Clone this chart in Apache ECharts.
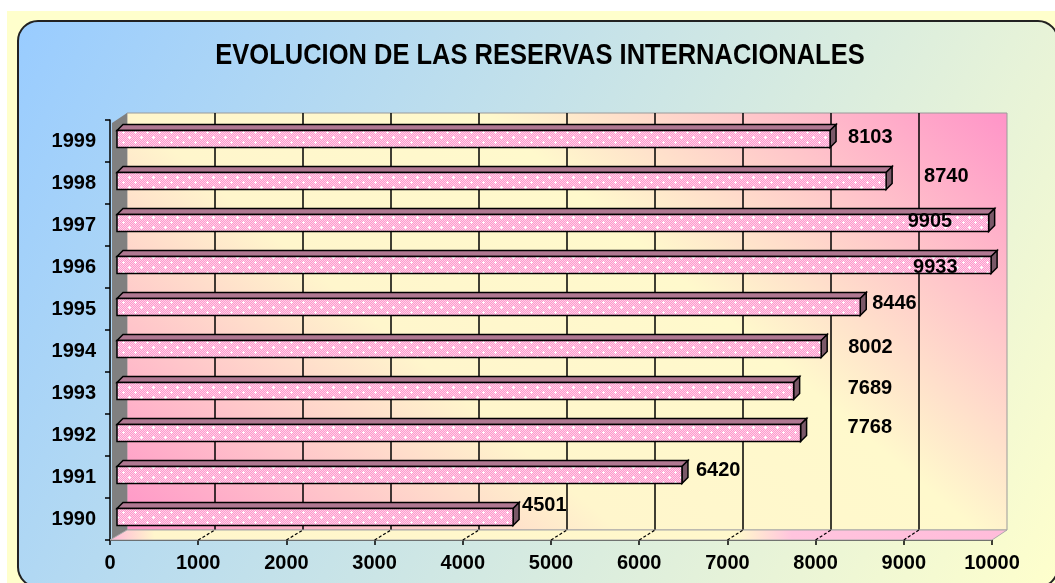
<!DOCTYPE html>
<html>
<head>
<meta charset="utf-8">
<script src="https://cdn.jsdelivr.net/npm/echarts@6/dist/echarts.min.js"></script>
<style>
  html, body { margin: 0; padding: 0; background: #fff; }
  #chart { width: 1055px; height: 583px; }
</style>
</head>
<body>
<div id="chart"></div>
<script>
var titleText = 'EVOLUCION DE LAS RESERVAS INTERNACIONALES';
var years = ['1990', '1991', '1992', '1993', '1994', '1995', '1996', '1997', '1998', '1999'];
var reservas = [4501, 6420, 7768, 7689, 8002, 8446, 9933, 9905, 8740, 8103];
var xTicks = [0, 1000, 2000, 3000, 4000, 5000, 6000, 7000, 8000, 9000, 10000];

// where excel left each value label, relative to the bar end (px)
var labelDx = [9, 14, 47, 54, 27, 12, -78, -81, 38, 18];
var labelDy = [-12, -5, -6, -3, -2, -4, 2, -2, -5, -2];

var FONT = '"Liberation Sans", Arial, sans-serif';
var depth = 6, barH = 17;

function makePattern() {
    var c = document.createElement('canvas');
    c.width = 12; c.height = 10;
    var ctx = c.getContext('2d');
    for (var y = 0; y < 10; y++) {
        for (var x = 0; x < 12; x++) {
            ctx.fillStyle = (x + y) % 2 ? '#ff99cc' : '#ffd2e9';
            ctx.fillRect(x, y, 1, 1);
        }
    }
    ctx.fillStyle = '#ffffff';
    [[3, 2], [9, 7]].forEach(function (p) {
        ctx.fillRect(p[0] - 1, p[1], 3, 1);
        ctx.fillRect(p[0], p[1] - 1, 1, 3);
    });
    return c;
}
var barPattern = { image: makePattern(), repeat: 'repeat' };

var myChart = echarts.init(document.getElementById('chart'));

var option = {
    backgroundColor: '#ffffcc',
    animation: false,
    grid: [
        { left: 110, right: 63, top: 120, bottom: 43 },
        {
            left: 127, right: 48, top: 113, bottom: 53, show: true, borderColor: '#9a9a9a', borderWidth: 1,
            backgroundColor: {
                type: 'linear', x: 279, y: 660, x2: 855, y2: -16, global: true,
                colorStops: [
                    { offset: 0, color: '#ff94c8' },
                    { offset: 0.36, color: '#fff6cc' },
                    { offset: 0.62, color: '#fff9cc' },
                    { offset: 1, color: '#ff94c8' }
                ]
            }
        },
        { left: 117, right: 58, top: 118, bottom: 45 }
    ],
    xAxis: [
        {
            gridIndex: 0, type: 'value', min: 0, max: 10000, interval: 1000,
            axisLine: { show: true, lineStyle: { color: '#000', width: 1.5 } },
            axisTick: { show: true, length: 5, lineStyle: { color: '#000', width: 1.5 } },
            axisLabel: {
                color: '#000', fontFamily: FONT, fontWeight: 'bold', fontSize: 20, margin: 13,
                formatter: function (v) { return String(v); }
            },
            splitLine: { show: false }
        },
        {
            gridIndex: 1, type: 'value', min: 0, max: 10000, interval: 1000,
            axisLine: { show: false }, axisTick: { show: false }, axisLabel: { show: false },
            splitLine: { show: true, showMinLine: false, showMaxLine: false, lineStyle: { color: '#000', width: 1.5 } }
        },
        { gridIndex: 2, type: 'value', min: 0, max: 10000, show: false }
    ],
    yAxis: [
        {
            gridIndex: 0, type: 'category', data: years,
            axisLine: { show: true, lineStyle: { color: '#000', width: 1.5 } },
            axisTick: { show: true, length: 5, lineStyle: { color: '#000', width: 1.5 } },
            axisLabel: { color: '#000', fontFamily: FONT, fontWeight: 'bold', fontSize: 20, margin: 14 }
        },
        { gridIndex: 1, type: 'category', data: years, show: false },
        { gridIndex: 2, type: 'category', data: years, show: false }
    ],
    series: [{
        type: 'custom',
        name: 'Reservas',
        xAxisIndex: 2,
        yAxisIndex: 2,
        clip: false,
        z: 3,
        encode: { x: 0, y: 1 },
        data: reservas.map(function (v, i) { return [v, i]; }),
        renderItem: function (params, api) {
            var i = params.dataIndex;
            var val = api.value(0);
            var end = api.coord([val, i]);
            var start = api.coord([0, i]);
            var x0 = start[0], x1 = end[0];
            var y0 = end[1] - barH / 2, y1 = end[1] + barH / 2;
            var edge = { stroke: '#000', lineWidth: 1.5 };
            return {
                type: 'group',
                children: [
                    {
                        type: 'polygon',
                        shape: { points: [[x0, y0], [x0 + depth, y0 - depth], [x1 + depth, y0 - depth], [x1, y0]] },
                        style: Object.assign({ fill: '#b07892' }, edge)
                    },
                    {
                        type: 'polygon',
                        shape: { points: [[x1, y0], [x1 + depth, y0 - depth], [x1 + depth, y1 - depth], [x1, y1]] },
                        style: Object.assign({ fill: '#7a5868' }, edge)
                    },
                    {
                        type: 'rect',
                        shape: { x: x0, y: y0, width: x1 - x0, height: barH },
                        style: Object.assign({ fill: barPattern }, edge)
                    },
                    {
                        type: 'text',
                        z2: 50,
                        style: {
                            text: String(val),
                            x: x1 + labelDx[i],
                            y: end[1] + labelDy[i],
                            fill: '#000',
                            font: 'bold 20px ' + FONT,
                            align: 'left',
                            verticalAlign: 'middle'
                        }
                    }
                ]
            };
        }
    }]
};

myChart.setOption(option);

// 3D decoration: frame, walls, floor and the floor tick lines
var frontY = 540, backY = 530;
var floorLines = xTicks.slice(1, -1).map(function (v) {
    var xf = myChart.convertToPixel({ xAxisIndex: 0 }, v);
    var xb = myChart.convertToPixel({ xAxisIndex: 1 }, v);
    return {
        type: 'line', z: 1,
        shape: { x1: xf, y1: frontY, x2: xb, y2: backY },
        style: { stroke: '#000', lineWidth: 1.2, lineDash: [3, 2] }
    };
});

var graphics = [
    { type: 'rect', z: -20, shape: { x: 0, y: 0, width: 1055, height: 11 }, style: { fill: '#fff' } },
    { type: 'rect', z: -20, shape: { x: 0, y: 0, width: 7, height: 583 }, style: { fill: '#fff' } },
    {
        type: 'rect', z: -10,
        shape: { x: 18, y: 21, width: 1040, height: 566, r: 20 },
        style: {
            stroke: '#222', lineWidth: 2,
            fill: new echarts.graphic.LinearGradient(0, 0, 1, 1, [
                { offset: 0, color: '#99ccff' },
                { offset: 1, color: '#ffffcc' }
            ])
        }
    },
    {
        type: 'text', z: 5, x: 540, y: 56, scaleY: 1.17,
        style: {
            text: titleText, fill: '#000', font: 'bold 25.5px ' + FONT,
            align: 'center', verticalAlign: 'middle'
        }
    },
    {
        type: 'polygon', z: 1,
        shape: { points: [[112, 123], [127, 113], [127, backY], [112, frontY]] },
        style: { fill: '#808080' }
    },
    {
        type: 'polygon', z: 1,
        shape: { points: [[110, frontY], [127, backY], [1007, backY], [992, frontY]] },
        style: {
            stroke: '#aaa', lineWidth: 1,
            fill: new echarts.graphic.LinearGradient(0, 0, 1, 0, [
                { offset: 0, color: '#ffb6d8' },
                { offset: 0.05, color: '#fff6cc' },
                { offset: 0.7, color: '#fff8cc' },
                { offset: 0.76, color: '#ffc4de' },
                { offset: 1, color: '#ffbcda' }
            ])
        }
    }
].concat(floorLines);

myChart.setOption({ graphic: { elements: graphics } });
</script>
</body>
</html>
